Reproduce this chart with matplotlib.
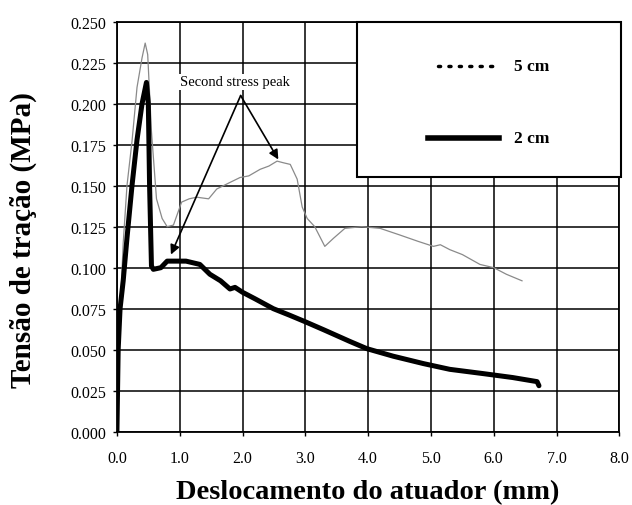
import numpy as np
import matplotlib
matplotlib.use("Agg")
import matplotlib.pyplot as plt
from matplotlib.patches import Rectangle
from matplotlib.lines import Line2D

plt.rcParams.update({
    "font.family": "serif",
    "font.serif": ["Liberation Serif", "DejaVu Serif"],
})

# ---- data ----
x_5cm = [0.0, 0.05, 0.1, 0.16, 0.24, 0.32, 0.4, 0.45, 0.49, 0.55, 0.63, 0.72,
         0.8, 0.9, 1.03, 1.15, 1.27, 1.46, 1.59, 1.8, 1.96, 2.1, 2.28, 2.42,
         2.55, 2.65, 2.76, 2.87, 2.95, 3.03, 3.15, 3.31, 3.45, 3.63, 3.9,
         4.19, 4.5, 4.8, 5.04, 5.15, 5.3, 5.5, 5.78, 6.0, 6.2, 6.45]
y_5cm = [0.0, 0.07, 0.115, 0.15, 0.177, 0.21, 0.228, 0.237, 0.230, 0.183,
         0.142, 0.13, 0.125, 0.126, 0.140, 0.142, 0.143, 0.142, 0.148, 0.152,
         0.155, 0.156, 0.160, 0.162, 0.165, 0.164, 0.163, 0.154, 0.137, 0.130,
         0.125, 0.113, 0.118, 0.124, 0.125, 0.124, 0.120, 0.116, 0.113, 0.114,
         0.111, 0.108, 0.102, 0.100, 0.096, 0.092]

x_2cm = [0.0, 0.02, 0.05, 0.1, 0.16, 0.24, 0.32, 0.4, 0.47, 0.5, 0.52, 0.55,
         0.58, 0.7, 0.8, 0.95, 1.1, 1.32, 1.48, 1.65, 1.8, 1.88, 2.0, 2.2,
         2.49, 2.75, 3.0, 3.3, 3.71, 3.98, 4.4, 4.88, 5.3, 5.83, 6.3, 6.69,
         6.72]
y_2cm = [0.0, 0.05, 0.075, 0.092, 0.118, 0.150, 0.178, 0.200, 0.213, 0.200,
         0.150, 0.101, 0.099, 0.100, 0.104, 0.104, 0.104, 0.102, 0.096, 0.092,
         0.087, 0.088, 0.085, 0.081, 0.075, 0.071, 0.067, 0.062, 0.055, 0.0506,
         0.046, 0.0415, 0.038, 0.0354, 0.033, 0.0305, 0.028]

x_ticks = np.arange(0, 8.01, 1.0)
y_ticks = np.arange(0, 0.2501, 0.025)

# ---- draw ----
fig = plt.figure(figsize=(6.32, 5.06), dpi=100)
ax = fig.add_axes([0.185, 0.145, 0.795, 0.81])

ax.plot(x_5cm, y_5cm, color="#8a8a8a", lw=0.9, zorder=3)
ax.plot(x_2cm, y_2cm, color="black", lw=3.6, solid_joinstyle="round",
        solid_capstyle="round", zorder=4)

ax.set_xlim(0, 8)
ax.set_ylim(0, 0.25)
ax.set_xticks(x_ticks)
ax.set_yticks(y_ticks)
ax.set_xticklabels([f"{v:.1f}" for v in x_ticks])
ax.set_yticklabels([f"{v:.3f}" for v in y_ticks])
ax.grid(True, color="black", lw=1.1)
ax.set_axisbelow(True)
for s in ax.spines.values():
    s.set_linewidth(1.3)
ax.tick_params(labelsize=11.5, length=3, width=1.0)
ax.tick_params(axis="x", pad=10)
ax.tick_params(axis="y", pad=5)

ax.set_xlabel("Deslocamento do atuador (mm)", fontsize=20.5,
              fontweight="bold")
ax.set_ylabel("Tensão de tração (MPa)", fontsize=21, fontweight="bold")
ax.xaxis.set_label_coords(0.5, -0.115)
ax.yaxis.set_label_coords(-0.16, 0.47)

# annotation
ax.text(1.0, 0.2135, "Second stress peak", fontsize=10.5, ha="left",
        va="center", zorder=6,
        bbox=dict(facecolor="white", edgecolor="none", pad=1))
for tip in [(0.86, 0.108), (2.57, 0.166)]:
    ax.annotate("", xy=tip, xytext=(1.97, 0.205),
                arrowprops=dict(arrowstyle="-|>", color="black", lw=1.2,
                                mutation_scale=14, shrinkA=0, shrinkB=0),
                zorder=6)

# legend box drawn by hand
ax.add_patch(Rectangle((0.478, 0.622), 0.526, 0.378, transform=ax.transAxes,
                       facecolor="white", edgecolor="black", lw=1.5,
                       zorder=7, clip_on=False))
ax.add_line(Line2D([0.64, 0.757], [0.893, 0.893], transform=ax.transAxes,
                   color="black", lw=2.5, linestyle=(0, (0.6, 2.4)),
                   dash_capstyle="round", zorder=8))
ax.add_line(Line2D([0.62, 0.76], [0.717, 0.717], transform=ax.transAxes,
                   color="black", lw=4.0, zorder=8))
ax.text(0.79, 0.893, "5 cm", transform=ax.transAxes, fontsize=12.5,
        fontweight="bold", va="center", zorder=8)
ax.text(0.79, 0.717, "2 cm", transform=ax.transAxes, fontsize=12.5,
        fontweight="bold", va="center", zorder=8)

fig.savefig("out.png", dpi=100, facecolor="white")
